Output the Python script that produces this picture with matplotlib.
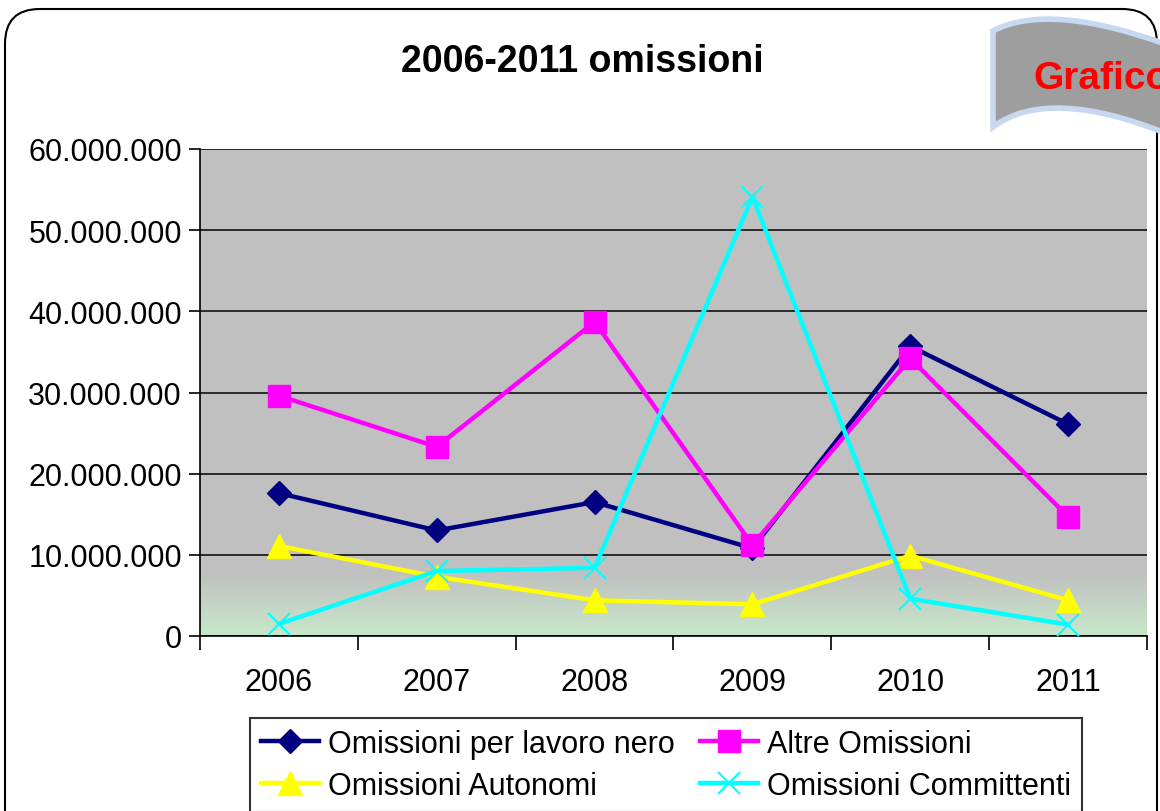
import numpy as np
import matplotlib
matplotlib.use("Agg")
import matplotlib.pyplot as plt
from matplotlib.patches import FancyBboxPatch, PathPatch
from matplotlib.path import Path
from matplotlib.ticker import FuncFormatter, FixedLocator

plt.rcParams["font.family"] = ["Liberation Sans", "DejaVu Sans"]

anni = ["2006", "2007", "2008", "2009", "2010", "2011"]
lavoro_nero = [17.6e6, 13.0e6, 16.5e6, 10.8e6, 35.7e6, 26.1e6]
altre = [29.6e6, 23.3e6, 38.7e6, 11.2e6, 34.2e6, 14.7e6]
autonomi = [11.1e6, 7.3e6, 4.4e6, 3.9e6, 9.9e6, 4.4e6]
committenti = [1.5e6, 8.0e6, 8.4e6, 54.1e6, 4.6e6, 1.4e6]

W, H = 1160, 812
fig = plt.figure(figsize=(W / 100, H / 100), dpi=100)

# bordo arrotondato del grafico
bordo = FancyBboxPatch((5 / W, -0.05), 1152 / W, (H - 10) / H + 0.05,
                       boxstyle="round,pad=0,rounding_size=0.03",
                       transform=fig.transFigure, fill=False,
                       edgecolor="black", linewidth=1.5, mutation_aspect=W / H)
fig.patches.append(bordo)

ax = fig.add_axes([200 / W, 175 / H, 947 / W, 487 / H])
ax.set_facecolor("#C0C0C0")

# sfumatura verde in basso
grad = np.linspace(0, 1, 100).reshape(-1, 1)
c_top = np.array([192, 192, 192]) / 255
c_bot = np.array([200, 232, 202]) / 255
img = (1 - grad)[..., None] * c_top + grad[..., None] * c_bot
img = img[:, 0, :][:, None, :]
ax.imshow(img, extent=[0, 1, 0, 0.13], transform=ax.transAxes,
          aspect="auto", zorder=0)

x = np.arange(len(anni))
ax.plot(x, lavoro_nero, color="#000080", lw=3.2, marker="D", ms=12,
        label="Omissioni per lavoro nero", zorder=3)
ax.plot(x, altre, color="#FF00FF", lw=3.2, marker="s", ms=16,
        label="Altre Omissioni", zorder=3)
ax.plot(x, autonomi, color="#FFFF00", lw=3.2, marker="^", ms=17,
        label="Omissioni Autonomi", zorder=3)
ax.plot(x, committenti, color="#00FFFF", lw=3.2, marker="x", ms=16, mew=1.5,
        label="Omissioni Committenti", zorder=3)

ax.set_xlim(-0.5, len(anni) - 0.5)
ax.set_ylim(0, 60e6)
ax.set_yticks(np.arange(0, 60e6 + 1, 10e6))
ax.yaxis.set_major_formatter(FuncFormatter(lambda v, p: f"{int(v):,}".replace(",", ".")))
ax.set_xticks(x)
ax.set_xticklabels(anni)
ax.xaxis.set_minor_locator(FixedLocator(np.arange(-0.5, len(anni), 1)))
ax.tick_params(axis="x", which="major", length=0, labelsize=22, pad=22)
ax.tick_params(axis="x", which="minor", length=10, width=1.2, direction="out")
ax.tick_params(axis="y", length=8, width=1.2, labelsize=22, pad=5)

ax.grid(axis="y", color="black", lw=1.1)
ax.set_axisbelow(True)
for s in ["top", "right"]:
    ax.spines[s].set_visible(False)
ax.spines["left"].set_linewidth(1.2)
ax.spines["bottom"].set_linewidth(1.2)

fig.text(582 / W, 1 - 62 / H, "2006-2011 omissioni", ha="center", va="center",
         fontsize=27, fontweight="bold")

# legenda riga per riga
h, l = ax.get_legend_handles_labels()
ordine = [0, 2, 1, 3]
leg = fig.legend([h[i] for i in ordine], [l[i] for i in ordine], ncol=2,
                 loc="center", bbox_to_anchor=(666 / W, 1 - 766 / H),
                 fontsize=22, frameon=True, fancybox=False, edgecolor="black",
                 handlelength=1.9, handletextpad=0.3, columnspacing=0.8,
                 labelspacing=0.4, borderpad=0.35)
leg.get_frame().set_linewidth(1.5)

# banner "Grafico"
def px(xp, yp):
    return (xp / W, 1 - yp / H)

verts = [px(993, 32), px(1030, 12), px(1090, 18), px(1165, 45),
         px(1165, 134), px(1090, 104), px(1030, 100), px(993, 128), px(993, 32)]
codes = [Path.MOVETO, Path.CURVE4, Path.CURVE4, Path.CURVE4,
         Path.LINETO, Path.CURVE4, Path.CURVE4, Path.CURVE4, Path.CLOSEPOLY]
banner = PathPatch(Path(verts, codes), transform=fig.transFigure,
                   facecolor="#9E9E9E", edgecolor="#C6D9F1", linewidth=4)
fig.patches.append(banner)
fig.text(1033 / W, 1 - 79 / H, "Grafico", ha="left", va="center",
         fontsize=28, fontweight="bold", color="red")

fig.savefig("out.png", dpi=100)
